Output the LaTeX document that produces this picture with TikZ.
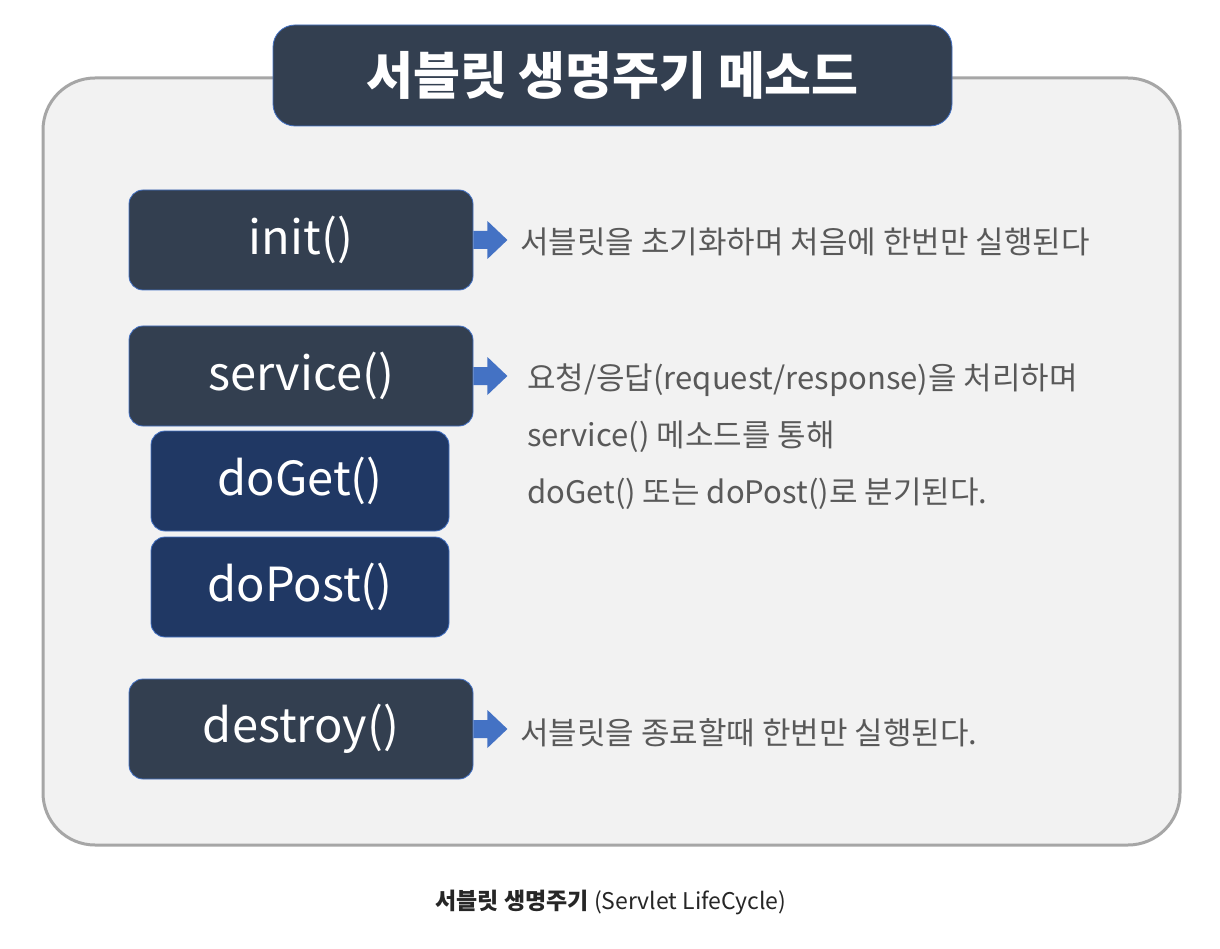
\documentclass[tikz,border=0pt]{standalone}
\usepackage{fontspec}
\setmainfont{Noto Sans CJK KR}
\usetikzlibrary{calc}
\definecolor{boxdark}{HTML}{333F50}
\definecolor{boxnavy}{HTML}{203864}
\definecolor{edgeblue}{HTML}{4472C4}
\definecolor{panelbg}{HTML}{F2F2F2}
\definecolor{panelline}{HTML}{A6A6A6}
\definecolor{desc}{HTML}{595959}
\definecolor{captxt}{HTML}{262626}
\tikzset{
  methodbox/.style={rounded corners=14pt, fill=boxdark, draw=edgeblue, line width=0.8pt,
    minimum width=344pt, minimum height=100pt, text=white, inner sep=0pt,
    font=\fontsize{47}{54}\selectfont},
  subbox/.style={methodbox, fill=boxnavy, minimum width=298pt},
  desctext/.style={text=desc, anchor=west, inner sep=0pt, align=left,
    font=\fontsize{31}{57}\selectfont},
  blockarrow/.style={fill=edgeblue},
}
\begin{document}
\begin{tikzpicture}[x=1pt,y=-1pt]
\useasboundingbox (0,0) rectangle (1220,949);
\fill[white] (0,0) rectangle (1220,949);
% panel
\draw[fill=panelbg, draw=panelline, line width=3pt, rounded corners=52pt] (43,78) rectangle (1180,845);
% title
\node[rounded corners=22pt, fill=boxdark, draw=edgeblue, line width=0.8pt,
  minimum width=679pt, minimum height=101pt, text=white, inner sep=0pt,
  font=\fontsize{51}{58}\selectfont\bfseries] (title) at (612.5,75.5) {서블릿 생명주기 메소드};
% method boxes
\node[methodbox] (init) at (301,240) {init()};
\node[methodbox] (service) at (301,376) {service()};
\node[subbox] (doget) at (300,481) {doGet()};
\node[subbox] (dopost) at (300,587) {doPost()};
\node[methodbox] (destroy) at (301,729) {destroy()};
% arrows
\foreach \n in {init,service,destroy}{
  \fill[blockarrow] ($(\n.east)+(0,-9)$) -- ++(14,0) -- ++(0,-10) -- ++(20,19)
     -- ++(-20,19) -- ++(0,-10) -- ++(-14,0) -- cycle;
}
% descriptions
\node[desctext] (initdesc) at (520,242) {서블릿을 초기화하며 처음에 한번만 실행된다};
\node[desctext] (servdesc) at (527,437) {요청/응답(request/response)을 처리하며\\service() 메소드를 통해\\doGet() 또는 doPost()로 분기된다.};
\node[desctext] (destdesc) at (520,733) {서블릿을 종료할때 한번만 실행된다.};
% caption
\node[text=captxt, inner sep=0pt, font=\fontsize{23}{27}\selectfont] (caption) at (611,902)
  {\textbf{서블릿 생명주기} (Servlet LifeCycle)};
\end{tikzpicture}
\end{document}
